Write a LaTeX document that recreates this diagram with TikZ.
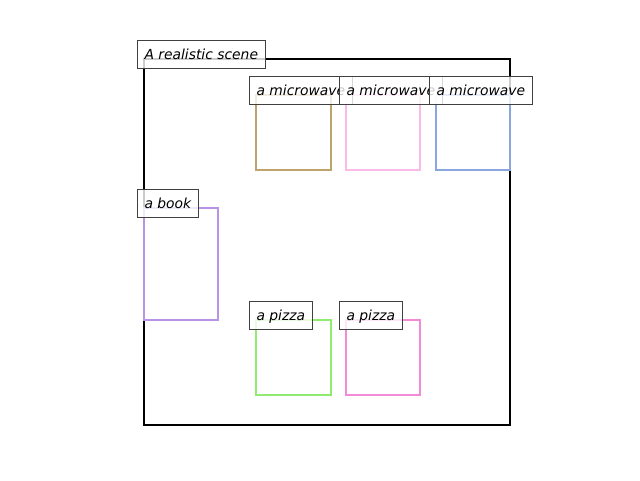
\documentclass[tikz,border=0pt]{standalone}
\usepackage{fontspec}
\setmainfont{DejaVu Sans}
\usepackage{tikz}

\definecolor{mwtan}{RGB}{188,164,108}
\definecolor{mwpink}{RGB}{250,188,230}
\definecolor{mwblue}{RGB}{138,166,222}
\definecolor{bookpurple}{RGB}{183,148,232}
\definecolor{pizzagreen}{RGB}{144,236,112}
\definecolor{pizzapink}{RGB}{243,138,216}

\begin{document}
\begin{tikzpicture}[x=0.75pt,y=-0.75pt,
    box/.style={line width=1.5pt},
    tag/.style={draw=black!75, line width=0.75pt, fill=white, fill opacity=0.8,
        text opacity=1, anchor=base west, inner xsep=5.25pt, inner ysep=0pt,
        text height=14.25pt, text depth=6.75pt, xshift=-5.25pt,
        font=\fontsize{10.4}{12}\selectfont\itshape}]
\useasboundingbox (0,0) rectangle (640,480);
\draw [box, black] (144,59) rectangle (510,425);
\draw [box, mwtan] (256,95) rectangle (331,170);
\draw [box, mwpink] (346,95) rectangle (420,170);
\draw [box, mwblue] (436,95) rectangle (510,170);
\draw [box, bookpurple] (144,208) rectangle (218,320);
\draw [box, pizzagreen] (256,320) rectangle (331,395);
\draw [box, pizzapink] (346,320) rectangle (420,395);
\node [tag] (scene) at (144,59) {A realistic scene};
\node [tag] (mw1) at (256,95) {a microwave};
\node [tag] (mw2) at (346,95) {a microwave};
\node [tag] (mw3) at (436,95) {a microwave};
\node [tag] (book) at (144,208) {a book};
\node [tag] (pz1) at (256,320) {a pizza};
\node [tag] (pz2) at (346,320) {a pizza};
\end{tikzpicture}
\end{document}
